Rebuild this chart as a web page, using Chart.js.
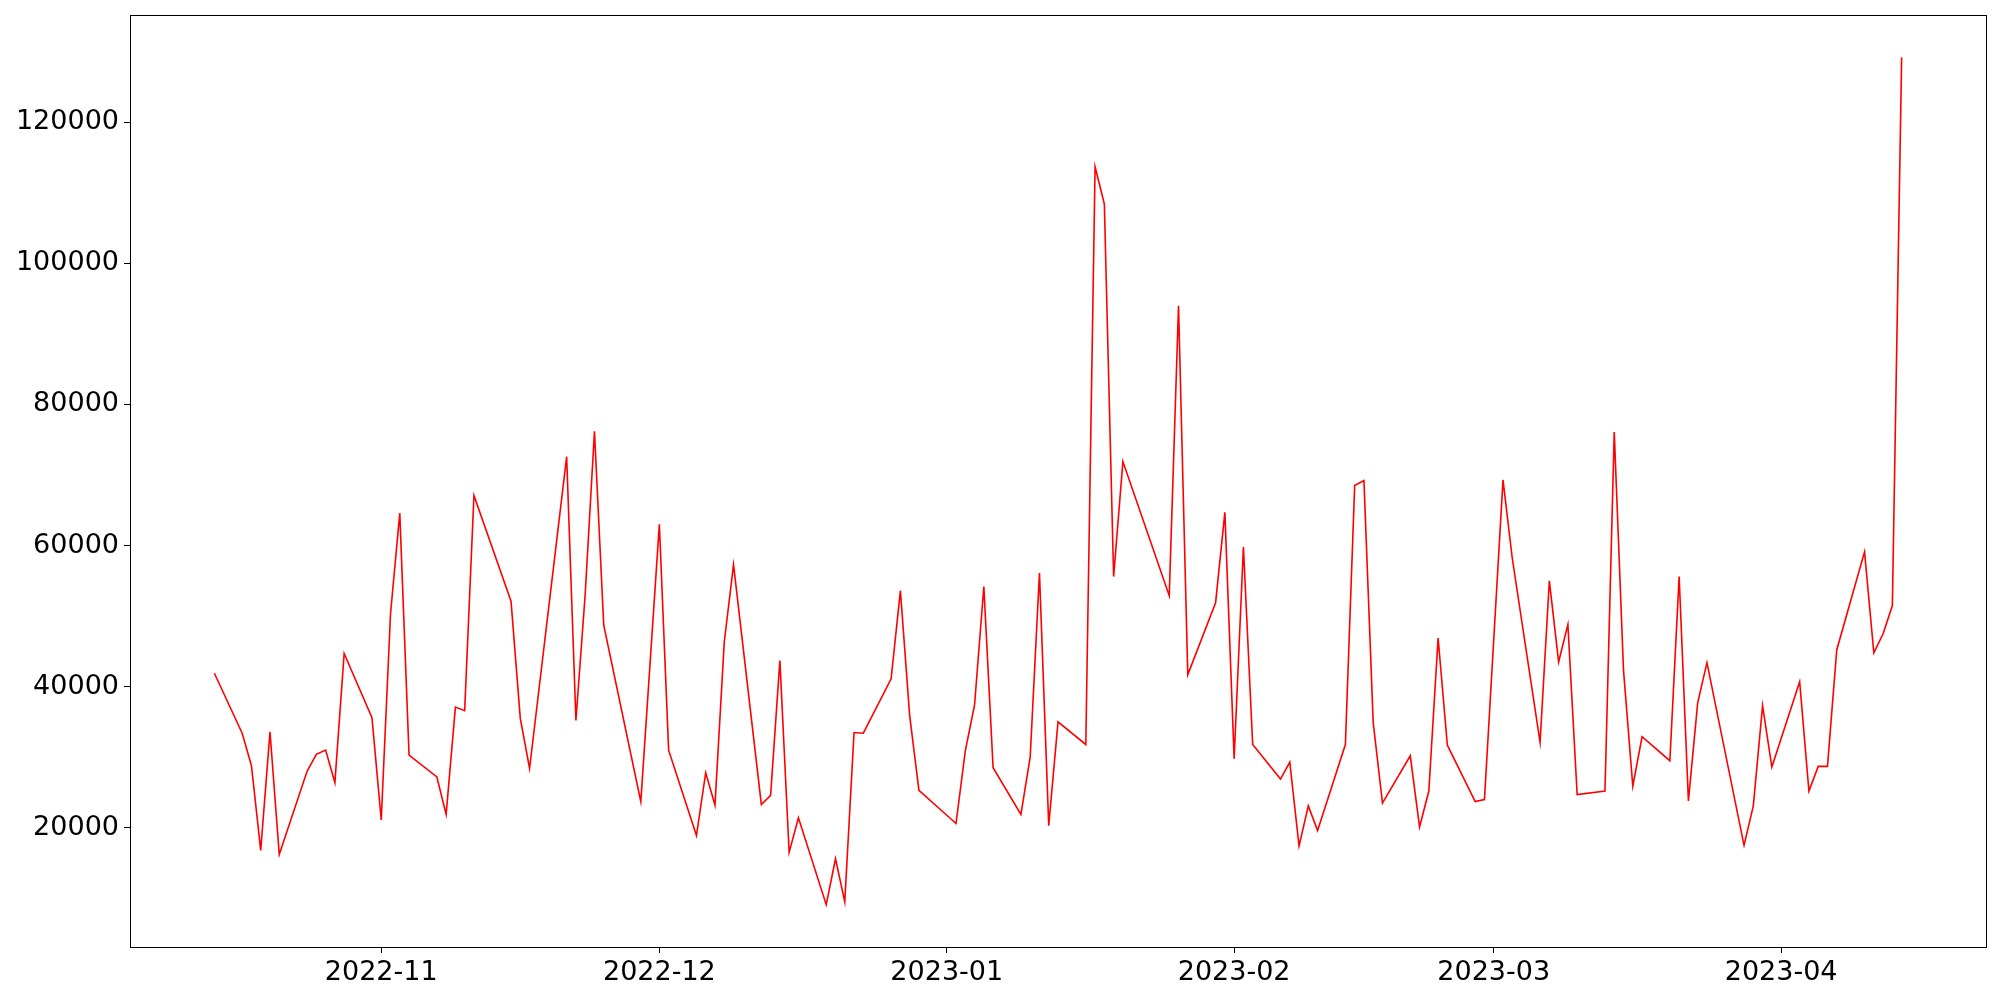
<!DOCTYPE html>
<html>
<head>
<meta charset="utf-8">
<script src="https://cdn.jsdelivr.net/npm/chart.js"></script>
<style>
  html, body { margin: 0; padding: 0; background: #fff; }
  #wrap { width: 2000px; height: 1000px; }
</style>
</head>
<body>
<div id="wrap"><canvas id="myChart" width="2000" height="1000"></canvas></div>
<script>
const dates = [
  '2022-10-14','2022-10-17','2022-10-18','2022-10-19','2022-10-20','2022-10-21',
  '2022-10-24','2022-10-25','2022-10-26','2022-10-27','2022-10-28','2022-10-31',
  '2022-11-01','2022-11-02','2022-11-03','2022-11-04','2022-11-07','2022-11-08',
  '2022-11-09','2022-11-10','2022-11-11','2022-11-15','2022-11-16','2022-11-17',
  '2022-11-21','2022-11-22','2022-11-23','2022-11-24','2022-11-25','2022-11-29',
  '2022-12-01','2022-12-02','2022-12-05','2022-12-06','2022-12-07','2022-12-08',
  '2022-12-09','2022-12-12','2022-12-13','2022-12-14','2022-12-15','2022-12-16',
  '2022-12-19','2022-12-20','2022-12-21','2022-12-22','2022-12-23','2022-12-26',
  '2022-12-27','2022-12-28','2022-12-29','2023-01-02','2023-01-03','2023-01-04',
  '2023-01-05','2023-01-06','2023-01-09','2023-01-10','2023-01-11','2023-01-12',
  '2023-01-13','2023-01-16','2023-01-17','2023-01-18','2023-01-19','2023-01-20',
  '2023-01-25','2023-01-26','2023-01-27','2023-01-30','2023-01-31','2023-02-01',
  '2023-02-02','2023-02-03','2023-02-06','2023-02-07','2023-02-08','2023-02-09',
  '2023-02-10','2023-02-13','2023-02-14','2023-02-15','2023-02-16','2023-02-17',
  '2023-02-20','2023-02-21','2023-02-22','2023-02-23','2023-02-24','2023-02-27',
  '2023-02-28','2023-03-02','2023-03-03','2023-03-06','2023-03-07','2023-03-08',
  '2023-03-09','2023-03-10','2023-03-13','2023-03-14','2023-03-15','2023-03-16',
  '2023-03-17','2023-03-20','2023-03-21','2023-03-22','2023-03-23','2023-03-24',
  '2023-03-28','2023-03-29','2023-03-30','2023-03-31','2023-04-03','2023-04-04',
  '2023-04-05','2023-04-06','2023-04-07','2023-04-10','2023-04-11','2023-04-12',
  '2023-04-13','2023-04-14'
];

const values = [
  41900, 33400, 28800, 16800, 33600, 16200,
  28000, 30400, 31000, 26400, 44700, 35600,
  21100, 50300, 64600, 30300, 27200, 21900,
  37100, 36600, 67100, 52100, 35500, 28400,
  72600, 35200, 53100, 76200, 48700, 23700,
  63000, 31000, 18900, 27800, 23200, 46300,
  57300, 23300, 24600, 43700, 16500, 21400,
  9100, 15600, 9500, 33500, 33400, 41100,
  53600, 35900, 25300, 20600, 30900, 37400,
  54200, 28500, 21900, 30000, 56100, 20300,
  35000, 31800, 113700, 108400, 55600, 71900,
  52900, 94000, 41700, 51900, 64700, 29800,
  59800, 31800, 26900, 29300, 17400, 23100,
  19600, 31800, 68500, 69200, 34900, 23500,
  30200, 20100, 25200, 46900, 31700, 23700,
  24000, 69300, 58200, 32100, 55000, 43500,
  48800, 24700, 25200, 76100, 42300, 25900,
  32900, 29500, 55600, 23800, 37700, 43400,
  17500, 23100, 37300, 28600, 40700, 25200,
  28700, 28700, 45200, 59100, 44800, 47500,
  51500, 129200
];

const monthTicks = ['2022-11', '2022-12', '2023-01', '2023-02', '2023-03', '2023-04'];
const yTicks = [20000, 40000, 60000, 80000, 100000, 120000];

const DAY = 86400000;
const toDays = s => Date.parse(s) / DAY;

const points = dates.map((d, i) => ({ x: toDays(d), y: values[i] }));
const tickDays = monthTicks.map(m => toDays(m + '-01'));

const xs = points.map(p => p.x);
const xMinD = Math.min(...xs), xMaxD = Math.max(...xs);
const yMinD = Math.min(...values), yMaxD = Math.max(...values);
const xPad = (xMaxD - xMinD) * 0.05;
const yPad = (yMaxD - yMinD) * 0.05;

const frame = {
  id: 'frame',
  afterDraw(chart) {
    const a = chart.chartArea, c = chart.ctx;
    c.save();
    c.strokeStyle = '#000';
    c.lineWidth = 1;
    c.strokeRect(a.left + 0.5, a.top + 0.5, a.right - a.left, a.bottom - a.top);
    c.restore();
  }
};

const tickFont = { family: 'DejaVu Sans', size: 27 };

new Chart(document.getElementById('myChart'), {
  type: 'line',
  data: {
    datasets: [{
      data: points,
      borderColor: '#ff0000',
      borderWidth: 1.6,
      pointRadius: 0,
      tension: 0,
      fill: false
    }]
  },
  options: {
    responsive: false,
    animation: false,
    events: [],
    layout: { padding: { left: 0, right: 14, top: 15, bottom: 0 } },
    plugins: { legend: { display: false }, tooltip: { enabled: false } },
    scales: {
      x: {
        type: 'linear',
        min: xMinD - xPad,
        max: xMaxD + xPad,
        afterBuildTicks: s => { s.ticks = tickDays.map(v => ({ value: v })); },
        afterFit: s => { s.height = 53; s.paddingLeft = 0; s.paddingRight = 0; },
        ticks: {
          autoSkip: false,
          maxRotation: 0,
          color: '#000',
          font: tickFont,
          padding: 4,
          callback: v => monthTicks[tickDays.indexOf(v)]
        },
        grid: { drawOnChartArea: false, drawTicks: true, tickLength: 6, color: '#000' },
        border: { display: false }
      },
      y: {
        min: yMinD - yPad,
        max: yMaxD + yPad,
        afterBuildTicks: s => { s.ticks = yTicks.map(v => ({ value: v })); },
        afterFit: s => { s.width = 130; s.paddingTop = 0; s.paddingBottom = 0; },
        ticks: {
          color: '#000',
          font: tickFont,
          padding: 5,
          callback: v => String(v)
        },
        grid: { drawOnChartArea: false, drawTicks: true, tickLength: 6, color: '#000' },
        border: { display: false }
      }
    }
  },
  plugins: [frame]
});
</script>
</body>
</html>
